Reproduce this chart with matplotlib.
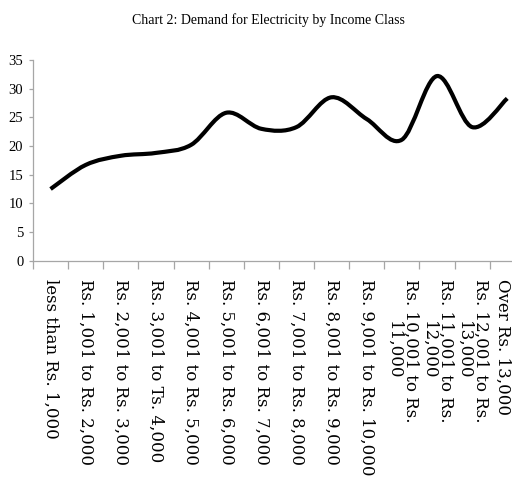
import numpy as np
import matplotlib
matplotlib.use('Agg')
import matplotlib.pyplot as plt
import matplotlib.transforms as mtransforms
from matplotlib.path import Path
from matplotlib.patches import PathPatch

categories = ["less than Rs. 1,000", "Rs. 1,001 to Rs. 2,000", "Rs. 2,001 to Rs. 3,000",
              "Rs. 3,001 to Ts. 4,000", "Rs. 4,001 to Rs. 5,000", "Rs. 5,001 to Rs. 6,000",
              "Rs. 6,001 to Rs. 7,000", "Rs. 7,001 to Rs. 8,000", "Rs. 8,001 to Rs. 9,000",
              "Rs. 9,001 to Rs. 10,000", "Rs. 10,001 to Rs.\n11,000", "Rs. 11,001 to Rs.\n12,000",
              "Rs. 12,001 to Rs.\n13,000", "Over Rs. 13,000"]
demand = [12.5, 16.7, 18.3, 18.8, 20.2, 25.8, 23.0, 23.3, 28.5, 24.7, 21.1, 32.2, 23.3, 28.3]
yticks = [0, 5, 10, 15, 20, 25, 30, 35]


def smooth_path(xs, ys):
    # excel style smoothed line: cubic bezier through every point
    pts = np.column_stack([xs, ys]).astype(float)
    n = len(pts)
    verts = [pts[0]]
    codes = [Path.MOVETO]
    for i in range(n - 1):
        p0 = pts[max(i - 1, 0)]
        p1 = pts[i]
        p2 = pts[i + 1]
        p3 = pts[min(i + 2, n - 1)]
        c1 = p1 + (p2 - p0) / 6.0
        c2 = p2 - (p3 - p1) / 6.0
        verts += [c1, c2, p2]
        codes += [Path.CURVE4] * 3
    return Path(verts, codes)


fig = plt.figure(figsize=(5.12, 4.88), dpi=100)
ax = fig.add_axes([33 / 512, (488 - 260.7) / 488, 491.8 / 512, 200.7 / 488])

x = np.arange(len(categories))
patch = PathPatch(smooth_path(x, demand), facecolor='none', edgecolor='black',
                  lw=3.0, capstyle='butt', joinstyle='round')
ax.add_patch(patch)

ax.set_xlim(-0.5, len(categories) - 0.5)
ax.set_ylim(0, 35)

axis_col = '#a6a6a6'
for s in ['top', 'right']:
    ax.spines[s].set_visible(False)
for s in ['left', 'bottom']:
    ax.spines[s].set_color(axis_col)
    ax.spines[s].set_linewidth(0.9)

ax.set_yticks(yticks)
ax.set_yticklabels([str(v) for v in yticks], fontfamily='Liberation Serif', fontsize=10.5)
ax.tick_params(axis='y', length=3, width=0.9, color=axis_col, pad=4)

# boundaries get tick marks, centers get the labels
ax.set_xticks(np.arange(len(categories) + 1) - 0.5)
ax.set_xticklabels([])
ax.tick_params(axis='x', which='major', length=6, width=0.9, color=axis_col)
ax.set_xticks(x, minor=True)
ax.set_xticklabels(categories, minor=True, rotation=270, fontfamily='DejaVu Serif',
                   fontsize=12, multialignment='center', linespacing=1.0)
ax.tick_params(axis='x', which='minor', length=0, pad=13)

# last label sits right at the edge, pull it in a little
last = ax.xaxis.get_minorticklabels()[-1]
last.set_transform(last.get_transform() + mtransforms.ScaledTranslation(-5 / 100, 0, fig.dpi_scale_trans))

fig.text(268 / 512, 1 - 20 / 488, "Chart 2: Demand for Electricity by Income Class",
         ha='center', va='center', fontfamily='Liberation Serif', fontsize=10)

fig.savefig('out.png', dpi=100)
